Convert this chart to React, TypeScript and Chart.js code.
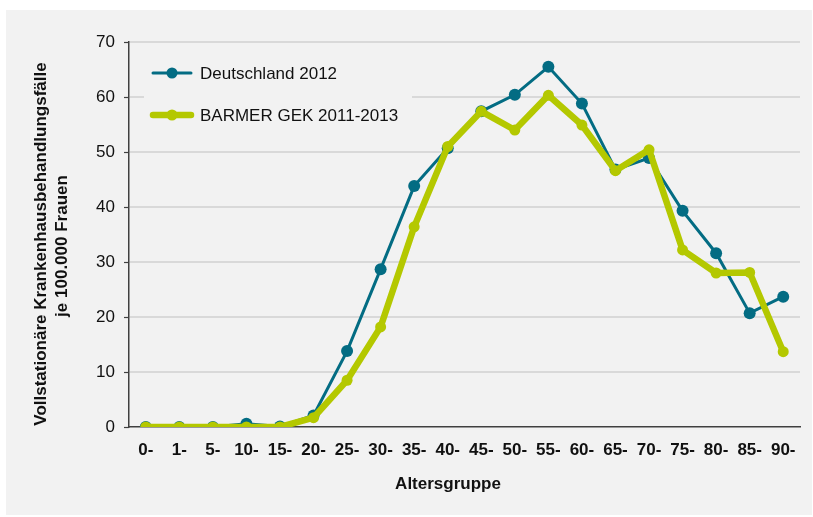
import React, { useEffect, useRef } from "react";
import { Chart, registerables } from "chart.js";

Chart.register(...registerables);

const categories = ["0-", "1-", "5-", "10-", "15-", "20-", "25-", "30-", "35-", "40-", "45-", "50-", "55-", "60-", "65-", "70-", "75-", "80-", "85-", "90-"];
const deutschland2012 = [0, 0, 0, 0.6, 0.1, 2.1, 13.8, 28.7, 43.8, 50.7, 57.4, 60.4, 65.5, 58.8, 46.8, 48.9, 39.3, 31.6, 20.7, 23.7];
const barmer20112013 = [0, 0, 0, 0, 0, 1.7, 8.5, 18.2, 36.4, 51.0, 57.4, 54.0, 60.3, 54.9, 46.6, 50.4, 32.2, 28.0, 28.1, 13.7];
const seriesNames = ["Deutschland 2012", "BARMER GEK 2011-2013"];
const yTitleLines = ["Vollstationäre Krankenhausbehandlungsfälle", "je 100.000 Frauen"];
const xTitle = "Altersgruppe";

const TEAL = "#036c83";
const GREEN = "#b4c800";
const PANEL = "#f2f2f2";
const FONT = "'Liberation Sans', Arial, sans-serif";

const decorPlugin = {
  id: "decor",
  beforeDraw(chart: any) {
    const ctx = chart.ctx;
    ctx.save();
    ctx.fillStyle = "#ffffff";
    ctx.fillRect(0, 0, chart.width, chart.height);
    ctx.fillStyle = PANEL;
    ctx.fillRect(6, 10, 806, 505);
    ctx.restore();
  },
  beforeDatasetsDraw(chart: any) {
    const ctx = chart.ctx;
    ctx.save();
    // legend background box hides gridlines
    ctx.fillStyle = PANEL;
    ctx.fillRect(144, 58, 268, 78);
    const items = [
      { y: 73, color: TEAL, lw: 3, r: 5.5, label: seriesNames[0] },
      { y: 115, color: GREEN, lw: 6.5, r: 5.5, label: seriesNames[1] },
    ];
    for (const it of items) {
      ctx.strokeStyle = it.color;
      ctx.lineWidth = it.lw;
      ctx.lineCap = "round";
      ctx.beginPath();
      ctx.moveTo(153, it.y);
      ctx.lineTo(191, it.y);
      ctx.stroke();
      ctx.fillStyle = it.color;
      ctx.beginPath();
      ctx.arc(172, it.y, it.r, 0, Math.PI * 2);
      ctx.fill();
      ctx.fillStyle = "#111111";
      ctx.font = `17px ${FONT}`;
      ctx.textAlign = "left";
      ctx.textBaseline = "middle";
      ctx.fillText(it.label, 200, it.y + 1);
    }
    // y title
    ctx.fillStyle = "#111111";
    ctx.textAlign = "center";
    ctx.textBaseline = "middle";
    ctx.save();
    ctx.font = `bold 17px ${FONT}`;
    ctx.translate(41, 244);
    ctx.rotate(-Math.PI / 2);
    ctx.fillText(yTitleLines[0], 0, 0);
    ctx.restore();
    ctx.save();
    ctx.font = `bold 17px ${FONT}`;
    ctx.translate(62, 246);
    ctx.rotate(-Math.PI / 2);
    ctx.fillText(yTitleLines[1], 0, 0);
    ctx.restore();
    // x title
    ctx.font = `bold 17px ${FONT}`;
    ctx.textAlign = "center";
    ctx.fillText(xTitle, 448, 484);
    ctx.restore();
  },
};

export default function App() {
  const ref = useRef<HTMLCanvasElement | null>(null);
  useEffect(() => {
    if (!ref.current) return;
    const chart = new Chart(ref.current, {
      type: "line",
      data: {
        labels: categories,
        datasets: [
          {
            label: seriesNames[0],
            data: deutschland2012,
            borderColor: TEAL,
            backgroundColor: TEAL,
            borderWidth: 3,
            pointRadius: 6,
            pointBorderWidth: 0,
            pointBackgroundColor: TEAL,
            tension: 0,
            order: 2,
          },
          {
            label: seriesNames[1],
            data: barmer20112013,
            borderColor: GREEN,
            backgroundColor: GREEN,
            borderWidth: 6.5,
            pointRadius: 5.5,
            pointBorderWidth: 0,
            pointBackgroundColor: GREEN,
            tension: 0,
            order: 1,
          },
        ],
      },
      options: {
        responsive: false,
        animation: false,
        devicePixelRatio: 1,
        layout: { padding: { left: 0, top: 42, right: 13, bottom: 0 } },
        plugins: { legend: { display: false }, tooltip: { enabled: false } },
        scales: {
          x: {
            offset: true,
            grid: { display: false, drawTicks: false },
            border: { display: true, color: "#404040", width: 1.5 },
            ticks: {
              color: "#111111",
              font: { family: FONT, size: 17, weight: "bold" },
              padding: 13,
              maxRotation: 0,
              autoSkip: false,
            },
            afterFit(scale: any) {
              scale.height = 90;
            },
          },
          y: {
            min: 0,
            max: 70,
            ticks: {
              stepSize: 10,
              color: "#111111",
              font: { family: FONT, size: 17 },
              padding: 14,
            },
            grid: {
              color: (c: any) => (c.tick && c.tick.value === 0 ? "rgba(0,0,0,0)" : "#d9d9d9"),
              lineWidth: 2,
              drawTicks: false,
            },
            border: { display: true, color: "#404040", width: 1.5 },
            afterFit(scale: any) {
              scale.width = 129;
            },
          },
        },
      },
      plugins: [
        decorPlugin,
        {
          id: "yticks",
          afterDraw(chart: any) {
            const ctx = chart.ctx;
            const y = chart.scales.y;
            ctx.save();
            ctx.strokeStyle = "#404040";
            ctx.lineWidth = 1.2;
            for (const t of y.ticks) {
              const py = Math.round(y.getPixelForValue(t.value)) + 0.5;
              ctx.beginPath();
              ctx.moveTo(124, py);
              ctx.lineTo(129, py);
              ctx.stroke();
            }
            ctx.restore();
          },
        },
      ],
    } as any);
    return () => chart.destroy();
  }, []);
  return (
    <div style={{ position: "absolute", left: 0, top: 0, width: 813, height: 517 }}>
      <canvas ref={ref} width={813} height={517} style={{ width: 813, height: 517, display: "block" }} />
    </div>
  );
}
